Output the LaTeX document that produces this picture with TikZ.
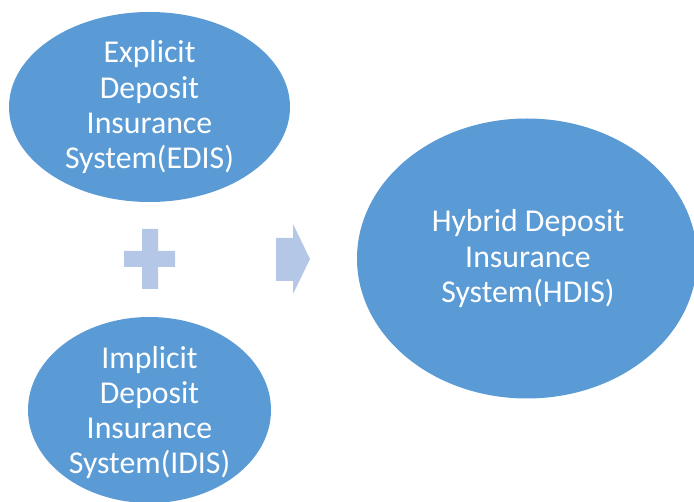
\documentclass[tikz,border=0pt]{standalone}
\usepackage{fontspec}
\setmainfont{Carlito}
\usetikzlibrary{shapes.geometric}
\definecolor{bubble}{HTML}{5B9BD5}
\definecolor{sign}{HTML}{B4C7E7}
\tikzset{
  bubble/.style={ellipse, fill=bubble, draw=none, inner sep=0pt},
  % the base anchor of a multi-line caption sits on its last line
  caption/.style={anchor=base, inner sep=0pt, text=white, align=center,
    font=\fontsize{31.8pt}{35.3pt}\selectfont},
  sign/.style={fill=sign, draw=none}
}
\begin{document}
\begin{tikzpicture}[x=1pt, y=-1pt]
  \useasboundingbox (0,0) rectangle (694,502);

  % the three systems
  \node[bubble, minimum width=281pt, minimum height=190pt] (edis) at (149.5,107) {};
  \node[bubble, minimum width=243pt, minimum height=186pt] (idis) at (149.5,410) {};
  \node[bubble, minimum width=340pt, minimum height=280pt] (hdis) at (527,258.5) {};

  \node[caption] (edist) at (149.5,168.9) {Explicit\\Deposit\\Insurance\\System(EDIS)};
  \node[caption] (idist) at (149.5,473.9) {Implicit\\Deposit\\Insurance\\System(IDIS)};
  \node[caption] (hdist) at (528,302.6) {Hybrid Deposit\\Insurance\\System(HDIS)};

  % plus sign
  \fill[sign] (142,229) -- (158,229) -- (158,251) -- (175,251) -- (175,267)
    -- (158,267) -- (158,289) -- (142,289) -- (142,267) -- (124,267)
    -- (124,251) -- (142,251) -- cycle;

  % block arrow
  \fill[sign] (276,238) -- (293,238) -- (293,224) -- (310,259) -- (293,294)
    -- (293,281) -- (276,281) -- cycle;
\end{tikzpicture}
\end{document}
